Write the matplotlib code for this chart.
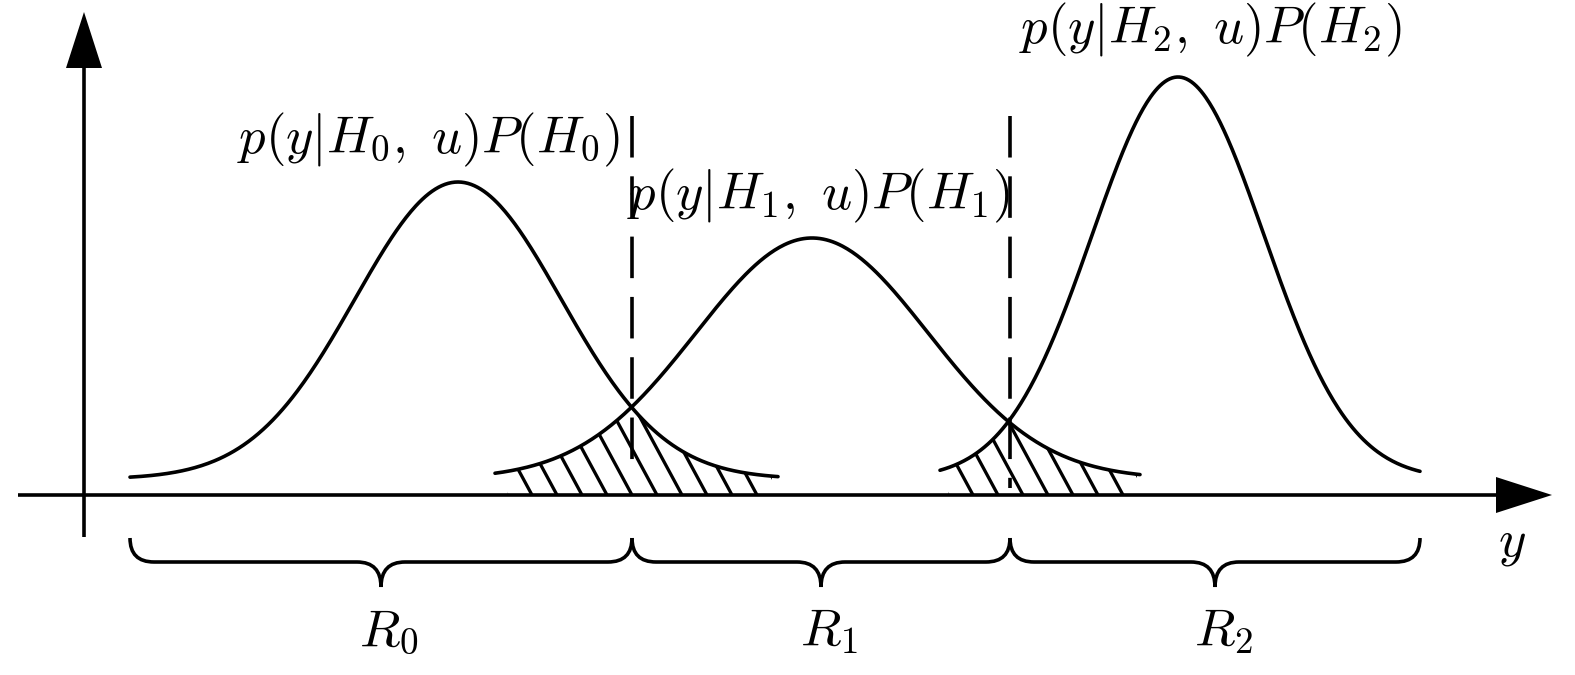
"""Decision regions R0, R1, R2 for three weighted likelihoods p(y|H_i, u)P(H_i)."""

import numpy as np
import matplotlib
matplotlib.use("Agg")
import matplotlib.pyplot as plt
from matplotlib.path import Path
from matplotlib.patches import PathPatch, Polygon

plt.rcParams["mathtext.fontset"] = "cm"

# canvas is laid out in pixel-like units (y grows downwards)
W, H = 1575, 675
AXIS_Y = 495          # horizontal axis
BASE_Y = 479          # level the bell curves sit on
YAXIS_X = 84

# the three weighted densities
hyp = ["0", "1", "2"]
centers = [458, 812, 1178]
heights = [297, 241, 402]
widths = [103, 116, 86]
x_start = [130, 495, 940]
x_end = [778, 1140, 1420]

# decision thresholds / region bounds
bounds = [130, 632, 1010, 1420]
# hatched error areas (between neighbouring curves)
hatch_ranges = [(507, 772), (948, 1137)]
hatch_step = 25
hatch_slope = 1.85

label_pos = [(428, 140), (818, 196), (1210, 30)]
LW = 2.6
FS = 38


def bell(i, x):
    return BASE_Y - heights[i] * np.exp(-(x - centers[i]) ** 2 / (2 * widths[i] ** 2))


fig = plt.figure(figsize=(W / 100, H / 100), dpi=100)
ax = fig.add_axes([0, 0, 1, 1])
ax.set_xlim(0, W)
ax.set_ylim(H, 0)
ax.axis("off")

# axes with arrow heads
ax.plot([18, 1500], [AXIS_Y, AXIS_Y], color="black", lw=LW, solid_capstyle="butt")
ax.add_patch(Polygon([[1496, AXIS_Y - 18], [1552, AXIS_Y], [1496, AXIS_Y + 18]],
                     closed=True, color="black", lw=0))
ax.plot([YAXIS_X, YAXIS_X], [537, 66], color="black", lw=LW, solid_capstyle="butt")
ax.add_patch(Polygon([[YAXIS_X - 18, 68], [YAXIS_X, 12], [YAXIS_X + 18, 68]],
                     closed=True, color="black", lw=0))
ax.text(1512, 542, "$y$", fontsize=FS, ha="center", va="center")

# bell curves
for i in range(3):
    xs = np.linspace(x_start[i], x_end[i], 400)
    ax.plot(xs, bell(i, xs), color="black", lw=LW, solid_capstyle="round")
    ax.text(label_pos[i][0], label_pos[i][1],
            rf"$p(y|H_{hyp[i]},\ u)P(H_{hyp[i]})$",
            fontsize=FS, ha="center", va="center")

# dashed thresholds
for b, y1 in zip(bounds[1:3], [468, 488]):
    ax.plot([b, b], [116, y1], color="black", lw=LW,
            linestyle=(0, (11.5, 5.2)), dash_capstyle="butt")

# hatched overlap areas under the lower of the two neighbouring curves
for k, (a, b) in enumerate(hatch_ranges):
    xs = np.linspace(a, b, 300)
    top = np.maximum(bell(k, xs), bell(k + 1, xs))
    verts = np.column_stack([np.r_[xs, xs[::-1]], np.r_[top, np.full_like(xs, AXIS_Y)]])
    clip = PathPatch(Path(verts, closed=True), transform=ax.transData,
                     facecolor="none", edgecolor="none")
    ax.add_patch(clip)
    for xb in np.arange(a - 100, b + 20, hatch_step):
        line, = ax.plot([xb, xb - 60], [AXIS_Y, AXIS_Y - 60 * hatch_slope],
                        color="black", lw=LW * 0.9)
        line.set_clip_path(clip)


# curly braces under the axis
def brace(x0, x1, ytop=538, yflat=562, ytip=587, r=24):
    xm = 0.5 * (x0 + x1)
    verts = [(x0, ytop), (x0, yflat), (x0 + r, yflat),
             (xm - r, yflat), (xm, yflat), (xm, ytip),
             (xm, yflat), (xm + r, yflat),
             (x1 - r, yflat), (x1, yflat), (x1, ytop)]
    codes = [Path.MOVETO, Path.CURVE3, Path.CURVE3,
             Path.LINETO, Path.CURVE3, Path.CURVE3,
             Path.CURVE3, Path.CURVE3,
             Path.LINETO, Path.CURVE3, Path.CURVE3]
    ax.add_patch(PathPatch(Path(verts, codes), facecolor="none",
                           edgecolor="black", lw=LW))
    return xm


for i in range(3):
    xm = brace(bounds[i], bounds[i + 1])
    ax.text(xm + 8, 630, rf"$R_{hyp[i]}$", fontsize=FS, ha="center", va="center")

fig.savefig("out.png", dpi=100, facecolor="white")
